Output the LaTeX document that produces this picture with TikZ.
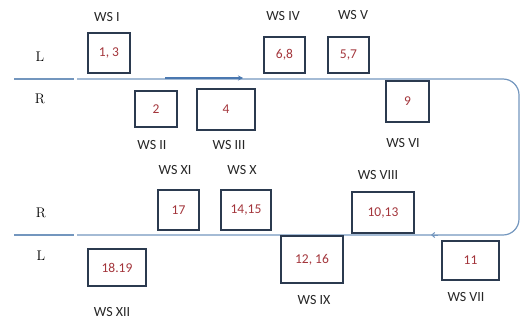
\documentclass[tikz,border=0pt]{standalone}
\usepackage{fontspec}
\newfontfamily\wsfont{Carlito}
\usetikzlibrary{arrows.meta}
\definecolor{boxc}{HTML}{2B3A4F}
\definecolor{linec}{HTML}{7396BE}
\definecolor{arrc}{HTML}{4A78B0}
\definecolor{numc}{HTML}{A3353B}
\begin{document}
\begin{tikzpicture}[x=1pt,y=-1pt,
  wsbox/.style={draw=boxc,line width=2.2pt,inner sep=0pt,text=numc,font=\wsfont\fontsize{13.5}{15}\selectfont},
  wslabel/.style={inner sep=0pt,text=black!85,font=\wsfont\fontsize{14}{16}\selectfont},
  sidelabel/.style={inner sep=0pt,font=\fontsize{14}{16}\selectfont},
  track/.style={draw=linec,line width=1.2pt}]
\useasboundingbox (0,0) rectangle (521,321);
% track
\coordinate (tl0) at (14,79);
\coordinate (tl1) at (74,79);
\coordinate (bl0) at (14,235);
\coordinate (bl1) at (74,235);
\coordinate (ts) at (77,79);
\coordinate (tc) at (519,79);
\coordinate (bc) at (519,235);
\coordinate (be) at (77,235);
\draw[track] (tl0) -- (tl1);
\draw[track] (bl0) -- (bl1);
\draw[track,rounded corners=16pt] (ts) -- (tc) -- (bc) -- (be);
\coordinate (a0) at (165,78);
\coordinate (a1) at (243,78);
\draw[draw=arrc,line width=2pt,-{Stealth[length=5pt,width=5pt]}] (a0) -- (a1);
\coordinate (c0) at (438,235);
\coordinate (c1) at (431,235);
\draw[draw=linec,line width=1pt,-{Straight Barb[length=3pt,width=5pt]}] (c0) -- (c1);
% side labels
\node[sidelabel] (L1) at (40,57) {L};
\node[sidelabel] (R1) at (40,99) {R};
\node[sidelabel] (R2) at (41,213) {R};
\node[sidelabel] (L2) at (41,256) {L};
% boxes
\node[wsbox,minimum width=42,minimum height=40] (b1) at (109,53) {1, 3};
\node[wsbox,minimum width=42,minimum height=36] (b2) at (156,109) {2};
\node[wsbox,minimum width=58,minimum height=41] (b3) at (226,109.5) {4};
\node[wsbox,minimum width=41,minimum height=36] (b4) at (284.5,55) {6,8};
\node[wsbox,minimum width=41,minimum height=36] (b5) at (348.5,55) {5,7};
\node[wsbox,minimum width=43,minimum height=41] (b6) at (407.5,101.5) {9};
\node[wsbox,minimum width=57,minimum height=39] (b7) at (470.5,260.5) {11};
\node[wsbox,minimum width=62,minimum height=41] (b8) at (383,212.5) {10,13};
\node[wsbox,minimum width=62,minimum height=47] (b9) at (312,259.5) {12, 16};
\node[wsbox,minimum width=50,minimum height=40] (b10) at (246,210) {14,15};
\node[wsbox,minimum width=41,minimum height=40] (b11) at (178.5,210) {17};
\node[wsbox,minimum width=58,minimum height=37] (b12) at (117,267.5) {18.19};
% labels
\node[wslabel] (w1) at (107,17) {WS I};
\node[wslabel] (w2) at (152,145) {WS II};
\node[wslabel] (w3) at (229,145) {WS III};
\node[wslabel] (w4) at (283,16) {WS IV};
\node[wslabel] (w5) at (353,15) {WS V};
\node[wslabel] (w6) at (403,143) {WS VI};
\node[wslabel] (w7) at (466,297) {WS VII};
\node[wslabel] (w8) at (378,175) {WS VIII};
\node[wslabel] (w9) at (314,300) {WS IX};
\node[wslabel] (w10) at (242,170) {WS X};
\node[wslabel] (w11) at (175,170) {WS XI};
\node[wslabel] (w12) at (112,312) {WS XII};
\end{tikzpicture}
\end{document}
